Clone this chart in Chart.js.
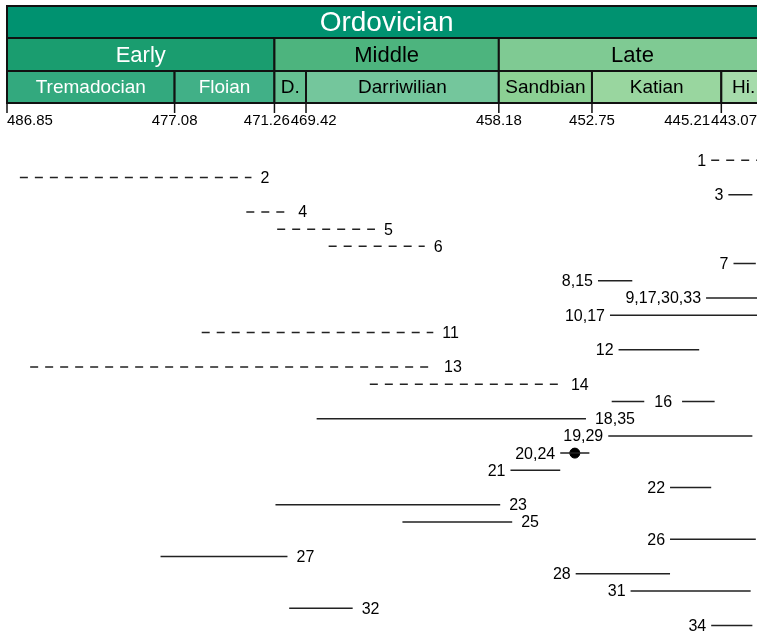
<!DOCTYPE html>
<html>
<head>
<meta charset="utf-8">
<script src="https://cdn.jsdelivr.net/npm/chart.js@4.4.0/dist/chart.umd.min.js"></script>
<style>
    body { margin: 0; background: #fff; }
    #chartBox { width: 757px; height: 634px; }
</style>
</head>
<body>
<div id="chartBox"><canvas id="myChart" width="757" height="634"></canvas></div>
<script>
// time scale (Ma)
const boundaries = [486.85, 477.08, 471.26, 469.42, 458.18, 452.75, 445.21, 443.07];
const stageNames = ['Tremadocian', 'Floian', 'D.', 'Darriwilian', 'Sandbian', 'Katian', 'Hi.'];
const stageColors = ['#33a97e', '#41b087', '#66c092', '#74c69c', '#8cd094', '#99d69f', '#a6dbab'];
const stageText = ['#fff', '#fff', '#000', '#000', '#000', '#000', '#000'];
const epochNames = ['Early', 'Middle', 'Late'];
const epochBounds = [[486.85, 471.26], [471.26, 458.18], [458.18, 443.07]];
const epochColors = ['#1a9d6f', '#4db47e', '#7fca93'];
const epochText = ['#fff', '#000', '#000'];
const periodName = 'Ordovician';

// ranges
const rowLabels = ['1', '2', '3', '4', '5', '6', '7', '8,15', '9,17,30,33', '10,17', '11', '12', '13', '14',
    '16', '18,35', '19,29', '20,24', '21', '22', '23', '25', '26', '27', '28', '31', '32', '34'];
const rangeStart = [445.8, 486.1, 444.8, 472.9, 471.1, 468.1, 444.5, 452.4, 446.1, 451.7, 475.5, 451.2, 485.5, 465.7,
    451.6, 468.8, 451.8, 454.6, 457.5, 448.2, 471.2, 463.8, 448.2, 477.9, 453.7, 450.5, 470.4, 445.8];
const rangeEnd = [443.0, 472.6, 443.4, 470.4, 465.4, 462.5, 443.2, 450.4, 443.0, 443.0, 462.0, 446.5, 461.9, 454.5,
    445.6, 453.1, 443.4, 452.9, 454.6, 445.8, 458.1, 457.4, 443.2, 470.5, 448.2, 443.5, 466.7, 443.4];
const dashed = [true, true, false, true, true, true, false, false, false, false, true, false, true, true,
    false, false, false, false, false, false, false, false, false, false, false, false, false, false];
const labelSide = ['left', 'right', 'left', 'right', 'right', 'right', 'left', 'left', 'left', 'left', 'right', 'left', 'right', 'right',
    'middle', 'right', 'left', 'left', 'left', 'left', 'right', 'right', 'left', 'right', 'left', 'left', 'right', 'left'];
const pointAges = [453.75];
const pointRows = [17];

const FONT = 'Arial, "Liberation Sans", Helvetica, sans-serif';
// the figure is cropped on the right, header boxes run a bit past the edge
const HEADER_END = 442.6;

function buildSegments(wantDashed) {
    let pts = [];
    for (let i = 0; i < rowLabels.length; i++) {
        if (dashed[i] !== wantDashed) continue;
        pts.push({x: rangeStart[i], y: i});
        pts.push({x: rangeEnd[i], y: i});
        pts.push({x: rangeEnd[i], y: null});
    }
    return pts;
}

const timescalePlugin = {
    id: 'timescale',
    afterDraw(chart) {
        let ctx = chart.ctx;
        let xs = chart.scales.x;
        let px = v => xs.getPixelForValue(v);
        let rows = [[6, 38], [38, 71], [71, 103]];

        function box(a, b, row, fill, text, color, size) {
            if (b === boundaries[boundaries.length - 1]) b = HEADER_END;
            let x0 = px(a), x1 = px(b);
            let y0 = rows[row][0], y1 = rows[row][1];
            ctx.fillStyle = fill;
            ctx.fillRect(x0, y0, x1 - x0, y1 - y0);
            ctx.strokeStyle = '#111';
            ctx.lineWidth = 2;
            ctx.strokeRect(x0, y0, x1 - x0, y1 - y0);
            ctx.fillStyle = color;
            ctx.font = size + 'px ' + FONT;
            ctx.textAlign = 'center';
            ctx.textBaseline = 'middle';
            ctx.fillText(text, (x0 + x1) / 2, (y0 + y1) / 2 + 1);
        }

        ctx.save();
        box(boundaries[0], boundaries[boundaries.length - 1], 0, '#009270', periodName, '#fff', 28);
        for (let i = 0; i < epochNames.length; i++) {
            box(epochBounds[i][0], epochBounds[i][1], 1, epochColors[i], epochNames[i], epochText[i], 22);
        }
        for (let i = 0; i < stageNames.length; i++) {
            box(boundaries[i], boundaries[i + 1], 2, stageColors[i], stageNames[i], stageText[i], 19);
        }

        // ticks + labels
        ctx.strokeStyle = '#111';
        ctx.lineWidth = 1.5;
        ctx.font = '15px ' + FONT;
        let labels = boundaries.map(v => {
            let w = ctx.measureText(v.toFixed(2)).width;
            let x = px(v);
            return {text: v.toFixed(2), x: x, l: x - w / 2, w: w};
        });
        labels.forEach(lb => {
            ctx.beginPath();
            ctx.moveTo(lb.x, 103);
            ctx.lineTo(lb.x, 113);
            ctx.stroke();
        });
        labels[0].l = Math.max(labels[0].l, 7);
        let last = labels[labels.length - 1];
        last.l = Math.min(last.l, chart.width - last.w);
        for (let i = labels.length - 2; i >= 0; i--) {
            let a = labels[i], b = labels[i + 1];
            let over = a.l + a.w + 1 - b.l;
            if (over > 0) {
                if (i + 1 === labels.length - 1) {
                    a.l -= over;
                } else {
                    a.l -= over / 2;
                    b.l += over / 2;
                }
            }
        }
        ctx.fillStyle = '#000';
        ctx.textAlign = 'left';
        ctx.textBaseline = 'middle';
        labels.forEach(lb => ctx.fillText(lb.text, lb.l, 121));

        // row labels
        let ys = chart.scales.y;
        ctx.font = '16px ' + FONT;
        ctx.textBaseline = 'middle';
        for (let i = 0; i < rowLabels.length; i++) {
            let y = ys.getPixelForValue(i);
            let x0 = px(rangeStart[i]), x1 = px(rangeEnd[i]);
            let t = rowLabels[i];
            if (labelSide[i] === 'left') {
                ctx.textAlign = 'right';
                ctx.fillText(t, x0 - 5, y + 1);
            } else if (labelSide[i] === 'right') {
                ctx.textAlign = 'left';
                ctx.fillText(t, x1 + 9, y + 1);
            } else {
                let w = ctx.measureText(t).width;
                let cx = (x0 + x1) / 2;
                ctx.fillStyle = '#fff';
                ctx.fillRect(cx - w / 2 - 10, y - 4, w + 20, 8);
                ctx.fillStyle = '#000';
                ctx.textAlign = 'center';
                ctx.fillText(t, cx, y + 1);
            }
        }
        ctx.restore();
    }
};

let config = {
    type: 'line',
    data: {
        datasets: [
            {
                label: 'solid',
                data: buildSegments(false),
                borderColor: '#222',
                borderWidth: 1.5,
                pointRadius: 0,
                spanGaps: false
            },
            {
                label: 'dashed',
                data: buildSegments(true),
                borderColor: '#222',
                borderWidth: 1.5,
                borderDash: [8, 7],
                pointRadius: 0,
                spanGaps: false
            },
            {
                label: 'point',
                data: pointAges.map((v, i) => ({x: v, y: pointRows[i]})),
                showLine: false,
                pointRadius: 5,
                pointBackgroundColor: '#000',
                pointBorderColor: '#000'
            }
        ]
    },
    options: {
        responsive: false,
        animation: false,
        layout: {
            autoPadding: false,
            padding: {left: 7, right: 0, top: 143, bottom: 0}
        },
        plugins: {
            legend: {display: false},
            tooltip: {enabled: false}
        },
        scales: {
            x: {
                type: 'linear',
                reverse: true,
                min: 443.13,
                max: 486.85,
                display: false
            },
            y: {
                type: 'linear',
                reverse: true,
                min: -1,
                max: 27.5,
                display: false
            }
        }
    },
    plugins: [timescalePlugin]
};

new Chart(document.getElementById('myChart'), config);
</script>
</body>
</html>
